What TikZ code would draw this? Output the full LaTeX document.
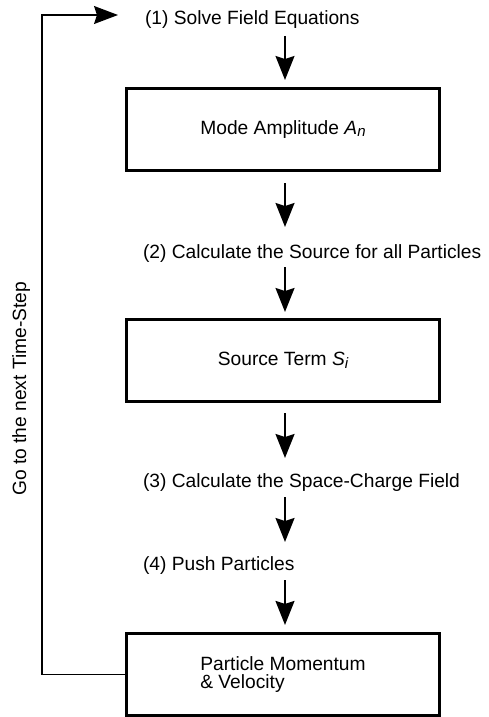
\documentclass[tikz,border=0pt]{standalone}
\usepackage{fontspec}
\setmainfont{Liberation Sans}
\usetikzlibrary{arrows.meta}
% italic subscript set slightly below the baseline
\newcommand\lowsub[1]{\raisebox{-2.5pt}{\fontsize{15}{15}\selectfont\itshape #1}}
\begin{document}
\begin{tikzpicture}[x=1pt,y=-1pt,
  every node/.style={font=\fontsize{19.2}{18.7}\selectfont},
  stagebox/.style={draw, line width=2.7pt, minimum width=313.4pt, minimum height=82.4pt,
                   inner sep=0pt, outer sep=0pt},
  steplabel/.style={anchor=base west, inner sep=0pt, outer sep=0pt,
                    text height=15pt, text depth=4pt},
  flow/.style={line width=1.7pt, -{Stealth[length=24pt,width=19pt,inset=3pt]}},
  back/.style={line width=1.3pt, -{Stealth[length=24pt,width=18pt,inset=3pt]}}]
\useasboundingbox (0,0) rectangle (489,717);

% quantities produced at each stage
\node[stagebox] (amp)  at (283,129.5) {Mode Amplitude \textit{A}\lowsub{n}};
\node[stagebox] (src)  at (283,360.5) {Source Term \textit{S}\lowsub{i}};
\node[stagebox, align=left] (push) at (283,674.4) {Particle Momentum\\\& Velocity};

% step descriptions
\node[steplabel] (s1) at (145,24.5) {(1) Solve Field Equations};
\node[steplabel] (s2) at (143,258)  {(2) Calculate the Source for all Particles};
\node[steplabel] (s3) at (143,487)  {(3) Calculate the Space-Charge Field};
\node[steplabel] (s4) at (143,570)  {(4) Push Particles};
\node[rotate=90, anchor=base, inner sep=0pt] (next) at (26,389) {Go to the next Time-Step};

% main downward flow
\coordinate (axis) at (285,0);
\draw[flow, shorten <=7.5pt, shorten >=8.3pt] (s1.south -| axis)  -- (amp.north -| axis);
\draw[flow, shorten <=12.3pt, shorten >=16pt] (amp.south -| axis) -- (s2.north -| axis);
\draw[flow, shorten <=5pt, shorten >=7.3pt]   (s2.south -| axis)  -- (src.north -| axis);
\draw[flow, shorten <=11.3pt, shorten >=14pt] (src.south -| axis) -- (s3.north -| axis);
\draw[flow, shorten <=6pt, shorten >=13pt]    (s3.south -| axis)  -- (s4.north -| axis);
\draw[flow, shorten <=6pt, shorten >=8.3pt]   (s4.south -| axis)  -- (push.north -| axis);

% feedback loop to the next time step
\coordinate (turn)  at (42,15);
\coordinate (entry) at (118,15);
\draw[back] (push.west) -| (turn) -- (entry);
\end{tikzpicture}
\end{document}
